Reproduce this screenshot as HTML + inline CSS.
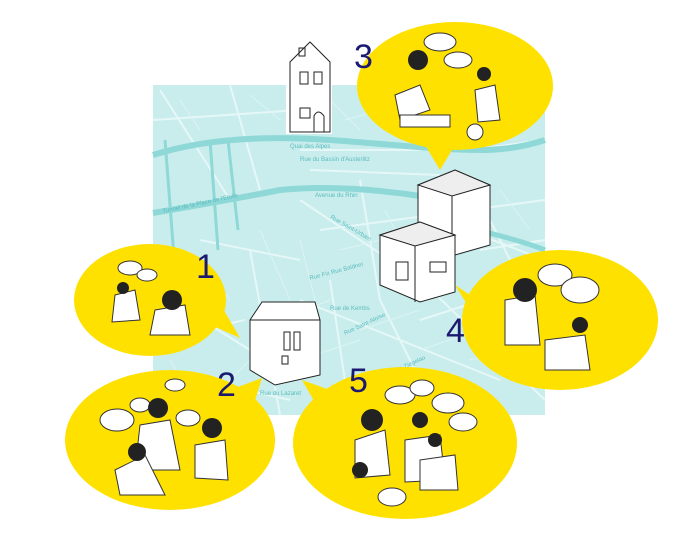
<!DOCTYPE html>
<html><head><meta charset="utf-8"><style>
html,body{margin:0;padding:0;background:#fff;width:700px;height:542px;overflow:hidden}
svg{display:block}
text{font-family:"Liberation Sans",sans-serif}
</style></head><body>
<svg width="700" height="542" viewBox="0 0 700 542" xmlns="http://www.w3.org/2000/svg">
<!-- map -->
<rect x="153" y="85" width="392" height="330" fill="#c9eded"/>
<g stroke="#e6f7f7" stroke-width="2" fill="none">
<path d="M153 120 L300 110 M160 90 L230 200 M230 85 L260 190 M300 200 L420 280 M320 230 L545 200 M200 240 L300 260 M250 250 L280 415 M330 280 L350 415 M380 300 L430 400 M420 320 L545 280 M170 300 L250 350 M300 300 L500 380 M440 220 L545 260 M360 180 L380 300 M153 340 L245 320 M470 180 L545 330 M200 380 L290 400 M400 260 L545 400"/>
<path d="M300 150 L420 150 M310 170 L440 175 M470 150 L545 140 M480 250 L545 240"/>
</g>
<g stroke="#dcf3f3" stroke-width="1" fill="none">
<path d="M180 100 L200 130 M250 95 L280 120 M330 100 L360 130 M260 230 L290 300 M300 240 L320 320 M280 320 L330 300 M300 360 L360 340 M360 330 L420 310 M420 350 L480 330 M470 360 L540 340 M500 300 L540 380 M440 380 L460 410 M200 260 L230 300 M160 250 L200 290 M170 360 L200 410 M220 390 L250 360 M340 250 L380 240 M385 210 L410 260 M500 190 L530 230 M480 120 L520 100 M345 120 L380 110"/>
</g>
<g stroke="#8fd8d8" fill="none">
<path d="M153 155 C200 140 260 135 330 140 C400 145 440 150 480 150 C510 150 530 145 545 140" stroke-width="6"/>
<path d="M153 213 C200 205 240 198 280 190 C330 185 380 190 420 196" stroke-width="6"/>
<path d="M430 220 C480 230 520 240 545 250" stroke-width="5"/>
<path d="M165 140 L175 270 M210 140 L218 250 M228 140 L238 230" stroke-width="3"/>
</g>
<g fill="#5bbcbc" font-size="6">
<text x="290" y="148">Quai des Alpes</text>
<text x="300" y="161">Rue du Bassin d'Austerlitz</text>
<text x="315" y="197">Avenue du Rhin</text>
<text x="163" y="213" transform="rotate(-12 163 213)">Tunnel de la Place de l'Etoile</text>
<text x="310" y="280" transform="rotate(-15 310 280)">Rue Fix Rue Baldner</text>
<text x="330" y="310">Rue de Kembs</text>
<text x="345" y="335" transform="rotate(-25 345 335)">Rue Saint-Aloïse</text>
<text x="380" y="380" transform="rotate(-25 380 380)">Rue de la Ziegelau</text>
<text x="260" y="395">Rue du Lazaret</text>
<text x="330" y="218" transform="rotate(30 330 218)">Rue Saint-Urbain</text>
</g>
<!-- top house -->
<rect x="286" y="62" width="46" height="72" fill="#fff"/>
<path d="M290 132 L290 62 L310 42 L330 62 L330 132 Z" fill="#fff" stroke="#222"/>
<rect x="299" y="48" width="6" height="8" fill="none" stroke="#222"/>
<rect x="300" y="72" width="8" height="12" fill="none" stroke="#222"/><rect x="314" y="72" width="8" height="12" fill="none" stroke="#222"/>
<rect x="300" y="108" width="10" height="10" fill="none" stroke="#222"/><path d="M314 132 L314 116 Q318 108 324 116 L324 132" fill="none" stroke="#222"/>
<!-- buildings right -->
<g stroke="#222" fill="#fff">
<path d="M418 185 L455 170 L490 185 L490 245 L455 255 L418 240 Z"/>
<path d="M418 185 L455 170 L490 185 L452 196 Z" fill="#eee"/>
<path d="M452 196 L452 255"/>
<path d="M380 235 L420 222 L455 235 L455 292 L420 302 L380 285 Z"/>
<path d="M380 235 L420 222 L455 235 L415 246 Z" fill="#eee"/>
<path d="M415 246 L415 302"/>
<rect x="396" y="262" width="12" height="18"/><rect x="430" y="262" width="16" height="10"/>
</g>
<!-- house middle -->
<g stroke="#222" fill="#fff">
<path d="M250 320 L262 302 L315 302 L320 320 L320 375 L275 385 L250 370 Z"/>
<path d="M250 320 L320 320" />
<rect x="284" y="332" width="6" height="18"/><rect x="294" y="332" width="6" height="18"/><rect x="282" y="356" width="6" height="8"/>
</g>
<!-- bubbles -->
<g fill="#ffe100">
<ellipse cx="455" cy="86" rx="98" ry="64"/>
<path d="M425 145 L440 170 L455 145 Z"/>
<ellipse cx="150" cy="300" rx="76" ry="56"/>
<path d="M200 320 L240 338 L215 295 Z"/>
<ellipse cx="170" cy="440" rx="105" ry="70"/>
<path d="M230 390 L262 378 L252 410 Z"/>
<ellipse cx="560" cy="320" rx="98" ry="70"/>
<path d="M470 295 L455 285 L480 325 Z"/>
<ellipse cx="405" cy="443" rx="112" ry="76"/>
<path d="M330 390 L302 380 L325 420 Z"/>
</g>
<!-- people/speech simple -->
<g fill="#fff" stroke="#333" stroke-width="1">
<ellipse cx="440" cy="42" rx="16" ry="9"/><ellipse cx="458" cy="60" rx="14" ry="8"/>
<path d="M395 95 L420 85 L430 110 L400 120 Z"/><rect x="400" y="115" width="50" height="12"/>
<path d="M475 90 L495 85 L500 120 L478 122 Z"/><ellipse cx="475" cy="132" rx="8" ry="8"/>
<ellipse cx="130" cy="268" rx="12" ry="7"/><ellipse cx="147" cy="275" rx="10" ry="6"/>
<path d="M115 295 L135 290 L140 320 L112 322 Z"/><path d="M155 310 L185 305 L190 335 L150 335 Z"/>
<ellipse cx="117" cy="420" rx="17" ry="11"/><ellipse cx="140" cy="405" rx="10" ry="7"/><ellipse cx="175" cy="385" rx="10" ry="6"/><ellipse cx="188" cy="418" rx="12" ry="8"/>
<path d="M140 425 L170 420 L180 470 L135 470 Z"/><path d="M115 470 L145 455 L165 495 L120 495 Z"/><path d="M195 445 L225 440 L228 480 L195 478 Z"/>
<ellipse cx="555" cy="275" rx="17" ry="11"/><ellipse cx="580" cy="290" rx="19" ry="13"/>
<path d="M505 300 L535 295 L540 345 L505 345 Z"/><path d="M545 340 L585 335 L590 370 L545 370 Z"/>
<ellipse cx="400" cy="395" rx="15" ry="9"/><ellipse cx="422" cy="388" rx="12" ry="8"/><ellipse cx="448" cy="403" rx="16" ry="10"/><ellipse cx="463" cy="422" rx="14" ry="9"/><ellipse cx="392" cy="497" rx="14" ry="9"/>
<path d="M355 440 L385 430 L390 475 L355 478 Z"/><path d="M405 440 L440 435 L445 480 L405 482 Z"/><path d="M420 460 L455 455 L458 490 L420 490 Z"/>
</g>
<g fill="#222">
<circle cx="418" cy="60" r="10"/><circle cx="484" cy="74" r="7"/>
<circle cx="123" cy="288" r="6"/><circle cx="172" cy="300" r="10"/>
<circle cx="158" cy="408" r="10"/><circle cx="212" cy="428" r="10"/><circle cx="137" cy="452" r="9"/>
<circle cx="525" cy="290" r="12"/><circle cx="580" cy="325" r="8"/>
<circle cx="372" cy="420" r="11"/><circle cx="420" cy="420" r="8"/><circle cx="435" cy="440" r="7"/><circle cx="360" cy="470" r="8"/>
</g>
<!-- numbers -->
<g fill="#1b1a70" font-size="34" font-family="DejaVu Sans,sans-serif">
<text x="354" y="68">3</text><text x="196" y="278">1</text><text x="217" y="396">2</text><text x="446" y="342">4</text><text x="349" y="392">5</text>
</g>
</svg>
</body></html>
